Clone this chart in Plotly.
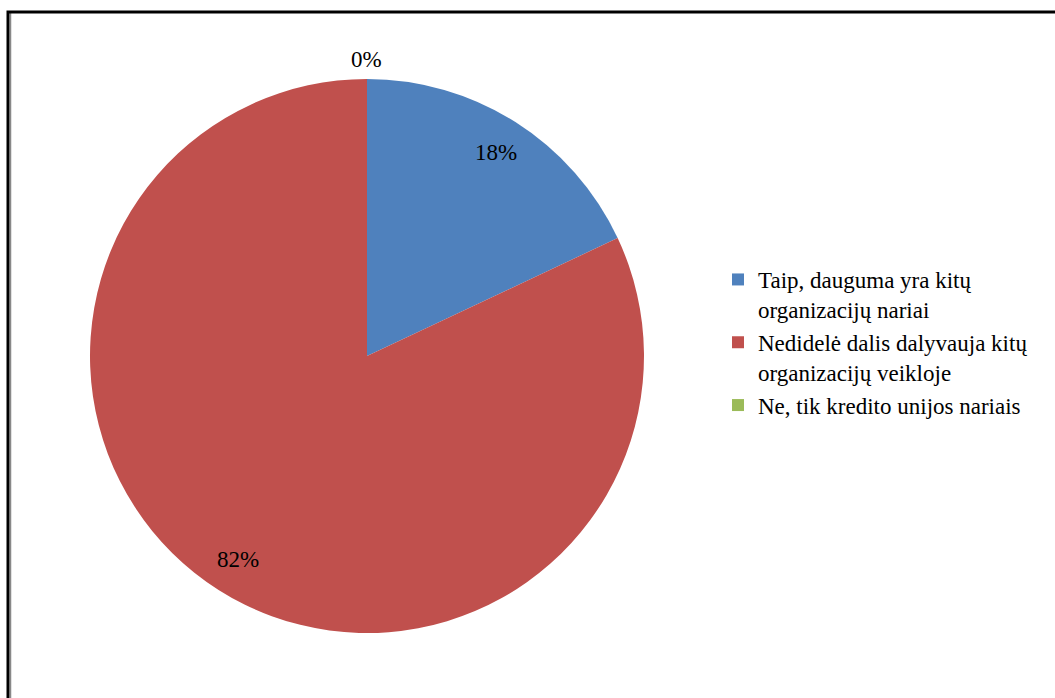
import math
import plotly.graph_objects as go

labels = ["Taip, dauguma yra kitų<br>organizacijų nariai",
          "Nedidelė dalis dalyvauja kitų<br>organizacijų veikloje",
          "Ne, tik kredito unijos nariais"]
values = [18, 82, 0]
pct_text = ["18%", "82%", "0%"]
colors = ["#4F81BD", "#C0504D", "#9BBB59"]

W, H = 1055, 698
cx, cy, R = 367, 356, 277

fig = go.Figure(go.Pie(
    labels=labels, values=values, sort=False, direction="clockwise", rotation=0,
    marker=dict(colors=colors, line=dict(width=0)),
    textinfo="none", hoverinfo="label+percent",
    domain=dict(x=[(cx - R) / W, (cx + R) / W], y=[(H - cy - R) / H, (H - cy + R) / H]),
))

# data labels placed along each slice's mid angle
total = sum(values)
cum = 0
for v, t in zip(values, pct_text):
    mid = (cum + v / 2) / total * 2 * math.pi
    cum += v
    rf = 0.87 if v > 0 else 1.07
    x = cx + rf * R * math.sin(mid)
    y = cy - rf * R * math.cos(mid)
    fig.add_annotation(x=x / W, y=1 - y / H, xref="paper", yref="paper", text=t,
                       xanchor="center", yanchor="middle", showarrow=False,
                       font=dict(family="Liberation Serif", size=23, color="black"))

# frame
fig.add_shape(type="line", xref="paper", yref="paper", x0=10.5 / W, x1=10.5 / W, y0=0, y1=1 - 13 / H,
              line=dict(color="#888888", width=1.5))
fig.add_shape(type="path", xref="paper", yref="paper",
              path=f"M {8/W} 0 L {8/W} {1-12/H} L 1 {1-12/H}",
              line=dict(color="black", width=3))

fig.update_layout(
    width=W, height=H, margin=dict(l=0, r=0, t=0, b=0),
    paper_bgcolor="white", plot_bgcolor="white",
    showlegend=True,
    legend=dict(x=718 / W, y=1 - 258 / H, xanchor="left", yanchor="top",
                font=dict(family="Liberation Serif", size=23, color="black"),
                valign="top", tracegroupgap=0, itemwidth=30),
)

fig.write_html("out.html")
